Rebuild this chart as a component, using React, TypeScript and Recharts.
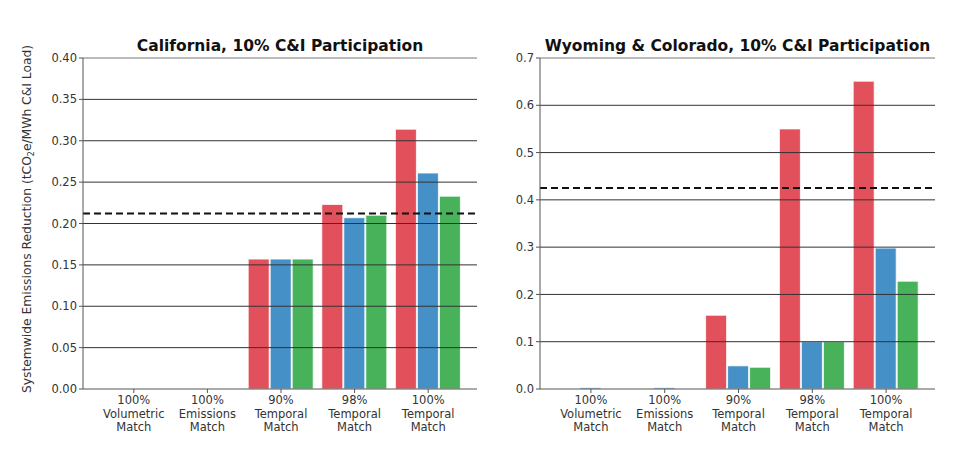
import { BarChart, Bar, XAxis, YAxis, ReferenceLine } from "recharts";

const categories = [
  "100%|Volumetric|Match",
  "100%|Emissions|Match",
  "90%|Temporal|Match",
  "98%|Temporal|Match",
  "100%|Temporal|Match",
];

// California panel
const caRed = [0, 0, 0.157, 0.223, 0.314];
const caBlue = [0, 0, 0.157, 0.207, 0.261];
const caGreen = [0, 0, 0.157, 0.21, 0.233];
const caBaseline = 0.212;
const caTicks = [0, 0.05, 0.1, 0.15, 0.2, 0.25, 0.3, 0.35, 0.4];

// Wyoming & Colorado panel
const wcRed = [0, 0, 0.156, 0.55, 0.651];
const wcBlue = [0.003, 0.003, 0.049, 0.1, 0.298];
const wcGreen = [0, 0, 0.046, 0.1, 0.228];
const wcBaseline = 0.425;
const wcTicks = [0, 0.1, 0.2, 0.3, 0.4, 0.5, 0.6, 0.7];

const RED = "#e2505b";
const BLUE = "#4590c7";
const GREEN = "#47b25a";
const FONT = "DejaVu Sans";

function buildRows(red: number[], blue: number[], green: number[]) {
  return categories.map((c, i) => ({ cat: c, red: red[i], blue: blue[i], green: green[i] }));
}

function CatTick(props: any) {
  const { x, y, payload } = props;
  const lines = String(payload.value).split("|");
  return (
    <text x={x} y={y + 9} textAnchor="middle" fontSize={11.5} fill="#333" fontFamily={FONT}>
      {lines.map((l, i) => (
        <tspan key={i} x={x} dy={i === 0 ? 0 : 13.5}>
          {l}
        </tspan>
      ))}
    </text>
  );
}

function Panel({
  rows,
  ticks,
  baseline,
  digits,
  width,
  margin,
  yWidth,
}: {
  rows: any[];
  ticks: number[];
  baseline: number;
  digits: number;
  width: number;
  margin: any;
  yWidth: number;
}) {
  const top = ticks[ticks.length - 1];
  return (
    <BarChart
      width={width}
      height={468}
      data={rows}
      margin={margin}
      barCategoryGap={4}
      barGap={1}
    >
      <XAxis
        dataKey="cat"
        tick={<CatTick />}
        interval={0}
        tickSize={4}
        stroke="#555"
        padding={{ left: 14, right: 12 }}
        height={60}
      />
      <YAxis
        domain={[0, top]}
        ticks={ticks}
        tickFormatter={(v: number) => v.toFixed(digits)}
        tick={{ fontSize: 11.5, fill: "#333", fontFamily: FONT }}
        tickSize={4}
        stroke="#555"
        width={yWidth}
        allowDataOverflow
      />
      <YAxis yAxisId="r" orientation="right" domain={[0, top]} tick={false} tickLine={false} width={0} stroke="#777" />
      <Bar dataKey="red" fill={RED} stroke="#fff" strokeWidth={0.8} isAnimationActive={false} />
      <Bar dataKey="blue" fill={BLUE} stroke="#fff" strokeWidth={0.8} isAnimationActive={false} />
      <Bar dataKey="green" fill={GREEN} stroke="#fff" strokeWidth={0.8} isAnimationActive={false} />
      {ticks.slice(1).map((t) => (
        <ReferenceLine key={t} y={t} stroke={t === top ? "#777" : "#333"} strokeWidth={1} />
      ))}
      <ReferenceLine y={baseline} stroke="#111" strokeWidth={2} strokeDasharray="7 4" />
    </BarChart>
  );
}

export default function App() {
  return (
    <div style={{ position: "absolute", left: 0, top: 0, width: 975, height: 468, background: "#fff", fontFamily: FONT }}>
      <div style={{ position: "absolute", left: 0, top: 0 }}>
        <Panel
          rows={buildRows(caRed, caBlue, caGreen)}
          ticks={caTicks}
          baseline={caBaseline}
          digits={2}
          width={500}
          margin={{ top: 58, right: 23, bottom: 19, left: 38 }}
          yWidth={45}
        />
      </div>
      <div style={{ position: "absolute", left: 500, top: 0 }}>
        <Panel
          rows={buildRows(wcRed, wcBlue, wcGreen)}
          ticks={wcTicks}
          baseline={wcBaseline}
          digits={1}
          width={475}
          margin={{ top: 58, right: 40, bottom: 19, left: 3 }}
          yWidth={37}
        />
      </div>
      <div
        style={{
          position: "absolute",
          left: 83,
          width: 394,
          top: 37,
          textAlign: "center",
          fontSize: 15.5,
          fontWeight: "bold",
          color: "#111",
        }}
      >
        California, 10% C&amp;I Participation
      </div>
      <div
        style={{
          position: "absolute",
          left: 540,
          width: 395,
          top: 37,
          textAlign: "center",
          fontSize: 15.5,
          fontWeight: "bold",
          color: "#111",
        }}
      >
        Wyoming &amp; Colorado, 10% C&amp;I Participation
      </div>
      <div
        style={{
          position: "absolute",
          left: 28,
          top: 219,
          transform: "translate(-50%, -50%) rotate(-90deg)",
          whiteSpace: "nowrap",
          fontSize: 12.3,
          color: "#333",
        }}
      >
        Systemwide Emissions Reduction (tCO<sub style={{ fontSize: 8 }}>2</sub>e/MWh C&amp;I Load)
      </div>
    </div>
  );
}
